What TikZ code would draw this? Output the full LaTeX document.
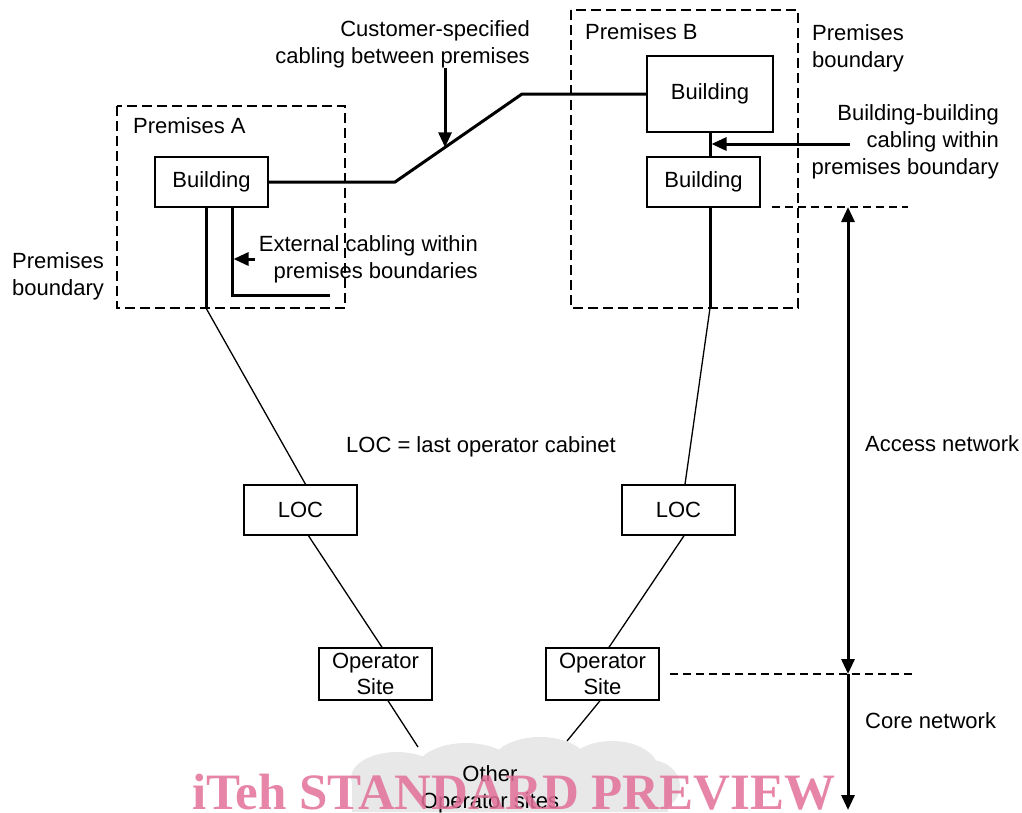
\documentclass[tikz,border=0pt]{standalone}
\usepackage{fontspec}
\setmainfont{Liberation Sans}
\newfontfamily\markfont{Liberation Serif}
\usepackage{tikz}
\usetikzlibrary{shapes,arrows,arrows.meta,calc}
\usepackage{color}
\definecolor{cloudgrey}{RGB}{232,232,232}
\definecolor{wmark}{RGB}{226,112,152}

\begin{document}
\begin{tikzpicture}[x=1pt,y=-1pt,
    every node/.style={font=\fontsize{22}{27}\selectfont},
    box/.style={draw,line width=1.5pt,minimum width=\boxw pt,minimum height=\boxh pt,inner sep=0pt},
    txt/.style={inner sep=0pt},
    cable/.style={line width=3pt},
    link/.style={line width=1.3pt},
    premise/.style={line width=2.5pt,dash pattern=on 10pt off 5pt},
    border/.style={line width=2pt,dash pattern=on 8pt off 5pt},
    arr/.style={line width=3pt,-{Triangle[length=15pt,width=13pt]}},
    dblarr/.style={line width=3pt,{Triangle[length=15pt,width=13pt]}-{Triangle[length=15pt,width=13pt]}}]
       % Sizes
       \pgfmathsetmacro{\boxw}{113}
       \pgfmathsetmacro{\boxh}{50}
       \useasboundingbox (0,0) rectangle (1022,812);

       % cloud
       \fill[cloudgrey] (397,778) ellipse [x radius=46pt,y radius=26pt]
                        (466,770) ellipse [x radius=50pt,y radius=27pt]
                        (540,766) ellipse [x radius=50pt,y radius=29pt]
                        (612,769) ellipse [x radius=46pt,y radius=28pt]
                        (650,786) ellipse [x radius=30pt,y radius=26pt]
                        (352,775) rectangle (668,812);

       % premises boundaries
       \draw[premise] (117,106) rectangle (345,308);
       \draw[premise] (571,10) rectangle (798,308);

       % vertices
       \node[box] (bldA) at (211.5,182) {Building};
       \node[box,minimum width=126pt,minimum height=76pt] (bldB) at (710,94) {Building};
       \node[box] (bldC) at (703.5,182) {Building};
       \node[box] (locA) at (300.5,510) {LOC};
       \node[box] (locB) at (678.5,510) {LOC};
       \node[box,minimum height=52pt,align=center,font=\fontsize{22}{26}\selectfont] (opA) at (375.5,674) {Operator\\Site};
       \node[box,minimum height=52pt,align=center,font=\fontsize{22}{26}\selectfont] (opB) at (602.5,674) {Operator\\Site};

       \coordinate (kA) at (395,182);
       \coordinate (kB) at (522,94);
       \coordinate (ctip) at ($(kA)!0.394!(kB)$);
       \coordinate (a1) at (206,308);
       \coordinate (a2) at (232,295);
       \coordinate (a3) at (330,295);
       \coordinate (b1) at (710,308);
       \coordinate (bbtail) at (850,144);
       \coordinate (bbtip) at (711.5,144);
       \coordinate (cA) at (418,747);
       \coordinate (cB) at (567,741);

       % labels
       \node[txt,anchor=west] (premA) at (133,126) {Premises A};
       \node[txt,anchor=west] (premB) at (585,32) {Premises B};
       \node[txt,anchor=west,align=left] (bndA) at (12,276) {Premises\\boundary};
       \node[txt,anchor=west,align=left] (bndB) at (812,48) {Premises\\boundary};
       \node[txt,anchor=east,align=right] (cust) at (530,44) {Customer-specified\\cabling between premises};
       \node[txt,anchor=east,align=right] (bbcab) at (999,142) {Building-building\\cabling within\\premises boundary};
       \node[txt,anchor=east,align=right] (extcab) at (478,259) {External cabling within\\premises boundaries};
       \node[txt] (locdef) at (481,447) {LOC = last operator cabinet};
       \node[txt,anchor=west] (acc) at (865,444) {Access network};
       \node[txt,anchor=west] (core) at (865,721) {Core network};
       \node[txt,align=center] (other) at (490,789) {Other\\Operator sites};

       % draw diagram
       \draw[cable] (bldA.east) -- (kA) -- (kB) -- (bldB.west);
       \draw[arr] (cust.south -| ctip) -- (ctip);
       \draw[cable] (bldA.south -| a1) -- (a1);
       \draw[cable] (bldA.south -| a2) -- (a2) -- (a3);
       \draw[arr,shorten >=1.5pt] ([xshift=-4pt]extcab.west) -- (extcab.west -| a2);
       \draw[cable] (bldB.south) -- (bldB.south |- bldC.north);
       \draw[cable] (bldC.south -| b1) -- (b1);
       \draw[arr] (bbtail) -- (bbtip);

       \draw[link] (a1) -- ([xshift=5pt]locA.north);
       \draw[link] ([xshift=8pt]locA.south) -- ([xshift=6.5pt]opA.north);
       \draw[link] ([xshift=12.5pt]opA.south) -- (cA);
       \draw[link] (b1) -- ([xshift=6.5pt]locB.north);
       \draw[link] ([xshift=5.5pt]locB.south) -- ([xshift=6.5pt]opB.north);
       \draw[link] ([xshift=-2.5pt]opB.south) -- (cB);

       % access and core network
       \coordinate (dA1) at (772,207);
       \coordinate (dA2) at (908,207);
       \coordinate (dC1) at (670,674);
       \coordinate (dC2) at (912,674);
       \coordinate (vtop) at (848,207);
       \coordinate (vmid) at (848,674);
       \coordinate (vbot) at (848,810);
       \draw[border] (dA1) -- (dA2);
       \draw[border] (dC1) -- (dC2);
       \draw[dblarr] (vtop) -- (vmid);
       \draw[arr] (vmid) -- (vbot);

       % watermark
       \node[anchor=base west,inner sep=0pt,text=wmark,opacity=0.85,font=\markfont\bfseries\fontsize{51}{51}\selectfont] (wmk) at (192,809) {iTeh STANDARD PREVIEW};
\end{tikzpicture}
\end{document}
